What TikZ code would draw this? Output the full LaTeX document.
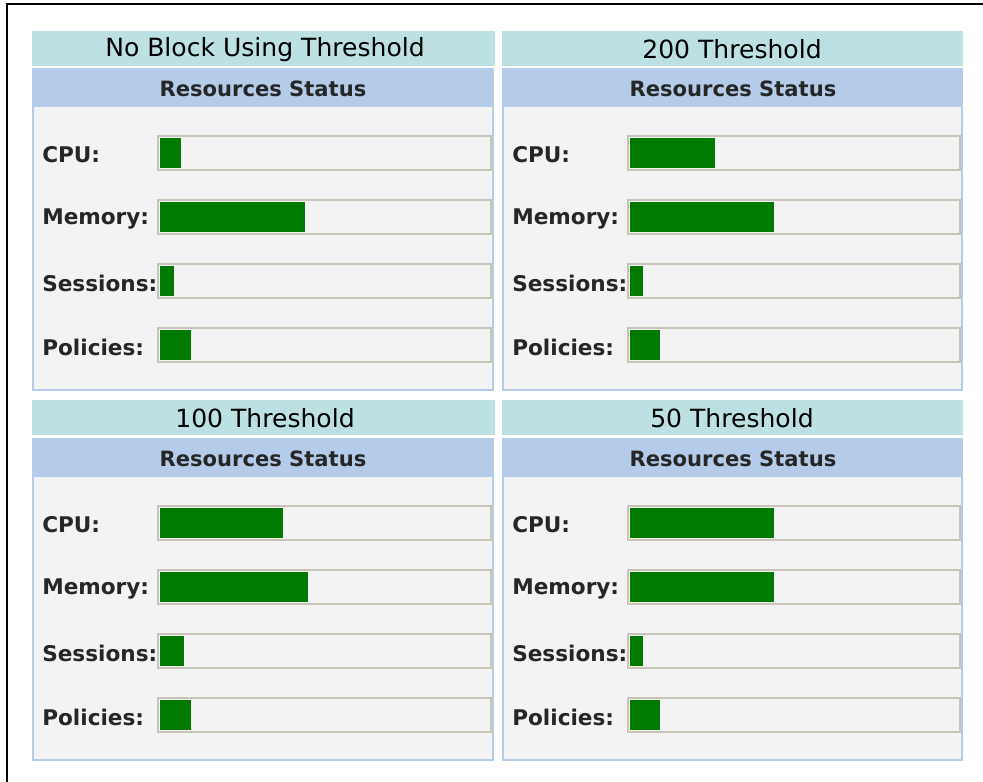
\documentclass[tikz,border=0pt]{standalone}
\usepackage{fontspec}
\setmainfont{DejaVu Sans}
\usetikzlibrary{positioning}

\definecolor{titlebg}{RGB}{189,224,226}
\definecolor{headbg}{RGB}{180,204,234}
\definecolor{bodybg}{RGB}{243,243,243}
\definecolor{trackline}{RGB}{200,197,184}
\definecolor{bargreen}{RGB}{0,122,0}

\tikzset{
  titletext/.style={inner sep=0pt,font=\fontsize{18.8}{20}\selectfont},
  headtext/.style={inner sep=0pt,font=\bfseries\fontsize{15.8}{17}\selectfont,text=black!85},
  rowlabel/.style={anchor=west,inner sep=0pt,font=\bfseries\fontsize{16.2}{17}\selectfont,text=black!85},
  panelbox/.style={fill=bodybg,draw=headbg,line width=1.5pt},
  trackbox/.style={fill=bodybg,draw=trackline,line width=1.4pt},
}

\begin{document}
\begin{tikzpicture}[x=0.75pt,y=0.75pt,yscale=-1,xscale=1]
        \useasboundingbox (0,0) rectangle (983,782);
        \fill[white] (0,0) rectangle (983,782);

        %Outer frame (only top and left edges show)
        \draw[line width=1.6pt] (7,782) -- (7,4) -- (983,4);

        %Panel: No Block Using Threshold
        \fill[titlebg] (32,31) rectangle (495,66);
        \node[titletext] (title-a) at (265,49.5) {No Block Using Threshold};
        \draw[panelbox] (33,69) rectangle (493,390);
        \fill[headbg] (33,69) rectangle (493,107);
        \node[headtext] (head-a) at (263,89) {Resources Status};
        \foreach \nm/\lab/\row/\val in {cpu/CPU:/0/21,mem/Memory:/1/145,ses/Sessions:/2/14,pol/Policies:/3/31}{
          \draw[trackbox] (158,{136+64*\row}) rectangle (491,{170+64*\row});
          \fill[bargreen] (160,{138+64*\row}) rectangle ({160+\val},{168+64*\row});
          \node[rowlabel] (\nm-a) at (42,{155+64*\row}) {\lab};
        }

        %Panel: 200 Threshold
        \begin{scope}[shift={(470,0)}]
        \fill[titlebg] (32,31) rectangle (493,66);
        \node[titletext] (title-b) at (262,49.5) {200 Threshold};
        \draw[panelbox] (33,69) rectangle (492,390);
        \fill[headbg] (33,69) rectangle (492,107);
        \node[headtext] (head-b) at (263,89) {Resources Status};
        \foreach \nm/\lab/\row/\val in {cpu/CPU:/0/85,mem/Memory:/1/144,ses/Sessions:/2/13,pol/Policies:/3/30}{
          \draw[trackbox] (158,{136+64*\row}) rectangle (490,{170+64*\row});
          \fill[bargreen] (160,{138+64*\row}) rectangle ({160+\val},{168+64*\row});
          \node[rowlabel] (\nm-b) at (42,{155+64*\row}) {\lab};
        }
        \end{scope}

        %Panel: 100 Threshold
        \begin{scope}[shift={(0,370)}]
        \fill[titlebg] (32,30) rectangle (495,65);
        \node[titletext] (title-c) at (265,48.5) {100 Threshold};
        \draw[panelbox] (33,69) rectangle (493,390);
        \fill[headbg] (33,69) rectangle (493,107);
        \node[headtext] (head-c) at (263,89) {Resources Status};
        \foreach \nm/\lab/\row/\val in {cpu/CPU:/0/123,mem/Memory:/1/148,ses/Sessions:/2/24,pol/Policies:/3/31}{
          \draw[trackbox] (158,{136+64*\row}) rectangle (491,{170+64*\row});
          \fill[bargreen] (160,{138+64*\row}) rectangle ({160+\val},{168+64*\row});
          \node[rowlabel] (\nm-c) at (42,{155+64*\row}) {\lab};
        }
        \end{scope}

        %Panel: 50 Threshold
        \begin{scope}[shift={(470,370)}]
        \fill[titlebg] (32,30) rectangle (493,65);
        \node[titletext] (title-d) at (262,48.5) {50 Threshold};
        \draw[panelbox] (33,69) rectangle (492,390);
        \fill[headbg] (33,69) rectangle (492,107);
        \node[headtext] (head-d) at (263,89) {Resources Status};
        \foreach \nm/\lab/\row/\val in {cpu/CPU:/0/144,mem/Memory:/1/144,ses/Sessions:/2/13,pol/Policies:/3/30}{
          \draw[trackbox] (158,{136+64*\row}) rectangle (490,{170+64*\row});
          \fill[bargreen] (160,{138+64*\row}) rectangle ({160+\val},{168+64*\row});
          \node[rowlabel] (\nm-d) at (42,{155+64*\row}) {\lab};
        }
        \end{scope}
\end{tikzpicture}
\end{document}
